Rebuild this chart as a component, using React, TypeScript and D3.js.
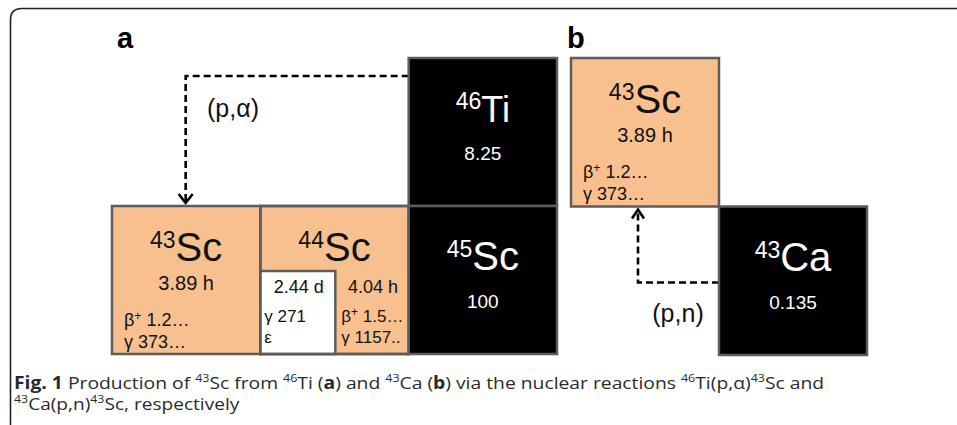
import React, { useLayoutEffect, useRef, useState } from "react";
import * as d3 from "d3";

type Cell = {
  mass: string;
  sym: string;
  symSize: number;
  col: number;
  row: number;
  kind: "stable" | "radio";
  main?: string;
  lines?: string[][];
};

// Panel a cells
const cellsA: Cell[] = [
  { mass: "46", sym: "Ti", symSize: 36, col: 2, row: 0, kind: "stable", main: "8.25" },
  { mass: "45", sym: "Sc", symSize: 40, col: 2, row: 1, kind: "stable", main: "100" },
  { mass: "43", sym: "Sc", symSize: 40, col: 0, row: 1, kind: "radio", main: "3.89 h", lines: [["β", "+", " 1.2…"], ["γ", "", "  373…"]] },
  { mass: "44", sym: "Sc", symSize: 40, col: 1, row: 1, kind: "radio" },
];
// Panel b cells
const cellsB: Cell[] = [
  { mass: "43", sym: "Sc", symSize: 40, col: 0, row: 0, kind: "radio", main: "3.89 h", lines: [["β", "+", " 1.2…"], ["γ", "", "  373…"]] },
  { mass: "43", sym: "Ca", symSize: 40, col: 1, row: 1, kind: "stable", main: "0.135" },
];
// 44Sc split: isomer (left, white) and ground state (right)
const iso44 = { half: "2.44 d", lines: [["γ", "", " 271"], ["ε", "", ""]] };
const gs44 = { half: "4.04 h", lines: [["β", "+", " 1.5…"], ["γ", "", " 1157.."]] };

const reactionA = "(p,α)";
const reactionB = "(p,n)";

const FONT = "'Liberation Sans', Arial, sans-serif";
const PEACH = "#F8C08E";
const STROKE = "#5c5c5c";

const xA = d3.scaleLinear().domain([0, 3]).range([112, 557]);
const yA = d3.scaleLinear().domain([0, 2]).range([58, 354]);
const xB = d3.scaleLinear().domain([0, 2]).range([571, 867]);
const yB = d3.scaleLinear().domain([0, 2]).range([58, 355]);

function Decay({ x, y, l, size, fill }: { x: number; y: number; l: string[]; size: number; fill: string }) {
  return (
    <text x={x} y={y} fill={fill} fontFamily={FONT} fontSize={size}>
      <tspan>{l[0]}</tspan>
      {l[1] && <tspan fontSize={12} dy={-6}>{l[1]}</tspan>}
      <tspan dy={l[1] ? 6 : 0}>{l[2]}</tspan>
    </text>
  );
}

function CellView({ c, x, y }: { c: Cell; x: d3.ScaleLinear<number, number>; y: d3.ScaleLinear<number, number> }) {
  const x0 = x(c.col), x1 = x(c.col + 1), y0 = y(c.row), y1 = y(c.row + 1);
  const cx = (x0 + x1) / 2;
  const isStable = c.kind === "stable";
  const fill = isStable ? "#000" : PEACH;
  const tc = isStable ? "#fff" : "#111";
  const symBase = y0 + (isStable ? 64 : 55);
  return (
    <g>
      <rect x={x0} y={y0} width={x1 - x0} height={y1 - y0} fill={fill} stroke={STROKE} strokeWidth={2.5} />
      <text x={cx} y={symBase} textAnchor="middle" fill={tc} fontFamily={FONT}>
        <tspan fontSize={23} dy={-13}>{c.mass}</tspan>
        <tspan fontSize={c.symSize} dy={13}>{c.sym}</tspan>
      </text>
      {c.main && (
        <text x={cx} y={y0 + (isStable ? 102 : 84)} textAnchor="middle" fill={tc} fontFamily={FONT} fontSize={isStable ? 19 : 20}>
          {c.main}
        </text>
      )}
      {c.lines &&
        c.lines.map((l, i) => (
          <Decay key={i} x={x0 + 12} y={y0 + 120 + i * 22} l={l} size={18} fill={tc} />
        ))}
    </g>
  );
}

function Caption() {
  const r1 = useRef<SVGTextElement>(null);
  const r2 = useRef<SVGTextElement>(null);
  const [s, setS] = useState<[number, number]>([1, 1]);
  useLayoutEffect(() => {
    const w1 = r1.current ? r1.current.getBBox().width : 0;
    const w2 = r2.current ? r2.current.getBBox().width : 0;
    setS([w1 ? 811 / w1 : 1, w2 ? 226 / w2 : 1]);
  }, []);
  const capFont = "'Open Sans', sans-serif";
  const sup = (t: string) => (
    <>
      <tspan fontSize={11} dy={-7}>{t}</tspan>
    </>
  );
  return (
    <g fill="#2a2a2a" fontFamily={capFont} fontSize={17}>
      <g transform={`translate(14,0) scale(${s[0]},1)`}>
        <text ref={r1} x={0} y={389}>
          <tspan fontWeight="bold">Fig. 1</tspan>
          <tspan> Production of </tspan>
          {sup("43")}
          <tspan dy={7}>Sc from </tspan>
          {sup("46")}
          <tspan dy={7}>Ti (</tspan>
          <tspan fontWeight="bold">a</tspan>
          <tspan>) and </tspan>
          {sup("43")}
          <tspan dy={7}>Ca (</tspan>
          <tspan fontWeight="bold">b</tspan>
          <tspan>) via the nuclear reactions </tspan>
          {sup("46")}
          <tspan dy={7}>Ti(p,α)</tspan>
          {sup("43")}
          <tspan dy={7}>Sc and</tspan>
        </text>
      </g>
      <g transform={`translate(14,0) scale(${s[1]},1)`}>
        <text ref={r2} x={0} y={410}>
          {sup("43")}
          <tspan dy={7}>Ca(p,n)</tspan>
          {sup("43")}
          <tspan dy={7}>Sc, respectively</tspan>
        </text>
      </g>
    </g>
  );
}

export default function App() {
  const line = d3.line<[number, number]>();
  // 44Sc geometry
  const s44x0 = xA(1), s44x1 = xA(2), s44y0 = yA(1), s44y1 = yA(2);
  const isoX1 = s44x0 + 75;
  const isoY0 = s44y0 + 65;

  // arrow a: from 46Ti left edge to 43Sc top
  const aY = yA(0) + 18;
  const aX = (xA(0) + xA(1)) / 2 - 0.5;
  const pathA = line([[xA(2), aY], [aX, aY], [aX, yA(1) - 3]]);
  // arrow b: from 43Ca left edge to 43Sc(b) bottom
  const bY = yB(1) + 76;
  const bX = (xB(0) + xB(1)) / 2 - 7;
  const pathB = line([[xB(1), bY], [bX, bY], [bX, yB(1) + 3]]);

  return (
    <svg width={957} height={425} style={{ position: "absolute", left: 0, top: 0 }}>
      <rect width={957} height={425} fill="#fff" />
      {/* frame */}
      <path d="M10.5,430 L10.5,20 Q10.5,8.5 22,8.5 L960,8.5" fill="none" stroke="#222" strokeWidth={1.6} />

      <text x={117} y={48} fontFamily={FONT} fontWeight="bold" fontSize={29} fill="#000">a</text>
      <text x={567} y={48} fontFamily={FONT} fontWeight="bold" fontSize={29} fill="#000">b</text>

      {/* arrows */}
      <path d={pathA ?? ""} fill="none" stroke="#000" strokeWidth={2.6} strokeDasharray="7,4" />
      <path d={line([[aX - 7, yA(1) - 12], [aX, yA(1) - 3], [aX + 7, yA(1) - 12]]) ?? ""} fill="none" stroke="#000" strokeWidth={2.6} />
      <text x={233} y={117} textAnchor="middle" fontFamily={FONT} fontSize={25} fill="#111">{reactionA}</text>

      <path d={pathB ?? ""} fill="none" stroke="#000" strokeWidth={2.6} strokeDasharray="7,4" />
      <path d={line([[bX - 6, yB(1) + 12], [bX, yB(1) + 3], [bX + 6, yB(1) + 12]]) ?? ""} fill="none" stroke="#000" strokeWidth={2.6} />
      <text x={678} y={322} textAnchor="middle" fontFamily={FONT} fontSize={25} fill="#111">{reactionB}</text>

      {cellsA.map((c, i) => <CellView key={"a" + i} c={c} x={xA} y={yA} />)}
      {cellsB.map((c, i) => <CellView key={"b" + i} c={c} x={xB} y={yB} />)}

      {/* 44Sc isomer split */}
      <rect x={s44x0} y={isoY0} width={isoX1 - s44x0} height={s44y1 - isoY0} fill="#fff" stroke={STROKE} strokeWidth={2.5} />
      <rect x={s44x0} y={s44y0} width={s44x1 - s44x0} height={s44y1 - s44y0} fill="none" stroke={STROKE} strokeWidth={2.5} />
      <text x={(s44x0 + isoX1) / 2 + 1} y={293} textAnchor="middle" fontFamily={FONT} fontSize={18} fill="#111">{iso44.half}</text>
      {iso44.lines.map((l, i) => <Decay key={"i" + i} x={s44x0 + 4} y={322 + i * 21} l={l} size={17} fill="#111" />)}
      <text x={(isoX1 + s44x1) / 2 + 1} y={293} textAnchor="middle" fontFamily={FONT} fontSize={18} fill="#111">{gs44.half}</text>
      {gs44.lines.map((l, i) => <Decay key={"g" + i} x={isoX1 + 6} y={322 + i * 21} l={l} size={17} fill="#111" />)}

      <Caption />
    </svg>
  );
}
